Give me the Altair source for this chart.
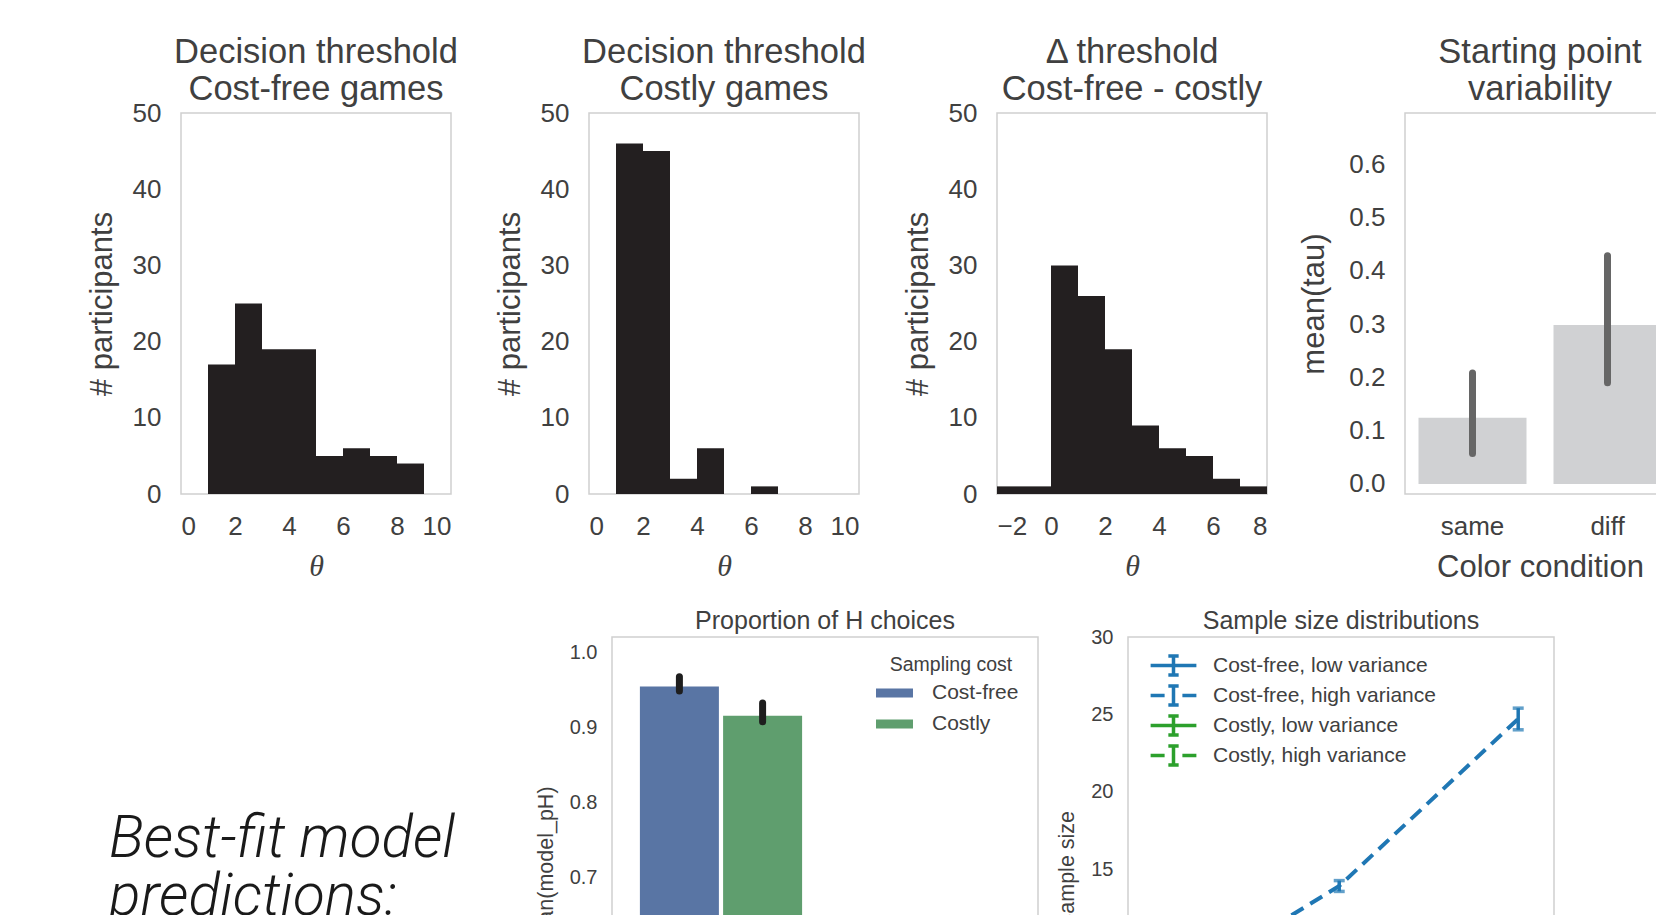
import altair as alt
import pandas as pd

# ---------------- data ----------------
# Histograms: left bin edges (bin width 1) and participant counts
cf_bin_left = [1, 2, 3, 4, 5, 6, 7, 8]
cf_counts = [17, 25, 19, 19, 5, 6, 5, 4]

costly_bin_left = [1, 2, 3, 4, 5, 6]
costly_counts = [46, 45, 2, 6, 0, 1]

delta_bin_left = [-2, -1, 0, 1, 2, 3, 4, 5, 6, 7]
delta_counts = [1, 1, 30, 26, 19, 9, 6, 5, 2, 1]
BIN_WIDTH = 1

# Starting point variability
color_condition = ["same", "diff"]
tau_mean = [0.124, 0.298]
tau_ci_low = [0.057, 0.190]
tau_ci_high = [0.208, 0.428]

# Proportion of H choices (visible group)
sampling_cost = ["Cost-free", "Costly"]
ph_hue_offset = [-0.2, 0.2]
ph_mean = [0.955, 0.916]
ph_ci_low = [0.949, 0.908]
ph_ci_high = [0.968, 0.933]

# Sample size distributions
ss_series = ["Cost-free, low variance", "Cost-free, high variance",
             "Costly, low variance", "Costly, high variance"]
ss_colors = ["#1f77b4", "#1f77b4", "#2ca02c", "#2ca02c"]
ss_plot_series = ["Cost-free, high variance"] * 3
ss_x = [0, 1, 2]
ss_mean = [6.8, 13.9, 24.7]
ss_low = [None, 13.55, 24.0]
ss_high = [None, 14.25, 25.4]

caption_text = ["Best-fit model\npredictions:"]

# ---------------- styling ----------------
TXT = "#404040"
FONT = "Liberation Sans"
TOP_W, TOP_H = 270, 381
TOP_GAP = 138
BOT_H = 464


def top_title(lines, offset):
    return alt.TitleParams(lines, fontSize=34.5, lineHeight=36.5, offset=offset)


def hist_panel(left, counts, title_lines, xdom, xvals):
    df = pd.DataFrame({"left": left, "count": counts})
    df["right"] = df["left"] + BIN_WIDTH
    return alt.Chart(df).mark_bar(color="#231f20", clip=True).encode(
        x=alt.X("left:Q", scale=alt.Scale(domain=xdom, nice=False, zero=False),
                axis=alt.Axis(values=xvals, title="θ", titleFont="Liberation Serif",
                              titleFontStyle="italic", titleFontSize=30,
                              labelFontSize=26, labelPadding=19, titlePadding=12)),
        x2="right:Q",
        y=alt.Y("count:Q", scale=alt.Scale(domain=[0, 50], nice=False),
                axis=alt.Axis(values=[0, 10, 20, 30, 40, 50], title="# participants",
                              labelFontSize=26, labelPadding=20,
                              titleFontSize=31, titlePadding=14)),
        y2=alt.datum(0),
    ).properties(width=TOP_W, height=TOP_H, title=top_title(title_lines, -7))


p1 = hist_panel(cf_bin_left, cf_counts, ["Decision threshold", "Cost-free games"],
                [0, 10], [0, 2, 4, 6, 8, 10])
p2 = hist_panel(costly_bin_left, costly_counts, ["Decision threshold", "Costly games"],
                [0, 10], [0, 2, 4, 6, 8, 10])
p3 = hist_panel(delta_bin_left, delta_counts, ["Δ threshold", "Cost-free - costly"],
                [-2, 8], [-2, 0, 2, 4, 6, 8])

# panel 4
df4 = pd.DataFrame({"cond": color_condition, "mean": tau_mean,
                    "lo": tau_ci_low, "hi": tau_ci_high})
x4 = alt.X("cond:N", sort=color_condition,
           scale=alt.Scale(paddingInner=0.2, paddingOuter=0.1),
           axis=alt.Axis(labelAngle=0, title="Color condition", labelFontSize=26,
                         titleFontSize=31, labelPadding=19, titlePadding=13))
y4s = alt.Scale(domain=[-0.019, 0.696], nice=False, zero=False)
bars4 = alt.Chart(df4).mark_bar(color="#d0d1d3").encode(
    x=x4,
    y=alt.Y("mean:Q", scale=y4s,
            axis=alt.Axis(values=[0, 0.1, 0.2, 0.3, 0.4, 0.5, 0.6], format=".1f",
                          title="mean(tau)", labelFontSize=26, labelPadding=20,
                          titleFontSize=31, titlePadding=18)),
    y2=alt.datum(0),
)
err4 = alt.Chart(df4).mark_rule(color="#666666", strokeWidth=7, strokeCap="round").encode(
    x=alt.X("cond:N", sort=color_condition), y="lo:Q", y2="hi:Q")
p4 = alt.layer(bars4, err4).properties(
    width=TOP_W, height=TOP_H, title=top_title(["Starting point", "variability"], 6))

# bottom: caption panel
dft = pd.DataFrame({"label": caption_text})
caption = alt.Chart(dft).mark_text(
    align="left", baseline="alphabetic", fontSize=58.5, lineHeight=58,
    fontStyle="italic", font="Roboto", fontWeight=300, lineBreak="\n", color="#1a1a1a"
).encode(text="label:N", x=alt.value(-72), y=alt.value(220)).properties(
    width=341, height=BOT_H, view=alt.ViewBackground(stroke="transparent"))

# bottom: proportion of H choices
dfb = pd.DataFrame({"cost": sampling_cost, "off": ph_hue_offset, "mean": ph_mean,
                    "lo": ph_ci_low, "hi": ph_ci_high})
xb = alt.X("off:Q", scale=alt.Scale(domain=[-0.5, 1.5], nice=False, zero=False), axis=None)
yb = alt.Scale(domain=[0.4023, 1.021], nice=False, zero=False)
bars_b = alt.Chart(dfb).mark_bar(size=79, clip=True).encode(
    x=xb,
    y=alt.Y("mean:Q", scale=yb,
            axis=alt.Axis(values=[0.5, 0.6, 0.7, 0.8, 0.9, 1.0], format=".1f",
                          title="mean(model_pH)", labelFontSize=20, labelPadding=15,
                          titleFontSize=21.5, titlePadding=12)),
    color=alt.Color("cost:N", scale=alt.Scale(domain=sampling_cost, range=["#5975a4", "#5f9e6e"]),
                    legend=alt.Legend(title="Sampling cost", orient="none", legendX=272, legendY=19,
                                      symbolType="M-2,-0.5H2V0.5H-2Z", symbolSize=342,
                                      labelFontSize=21, titleFontSize=19.5, labelOffset=27,
                                      rowPadding=9, titlePadding=7, titleAnchor="middle",
                                      padding=0, symbolStrokeWidth=0, labelLimit=400)),
)
err_b = alt.Chart(dfb).mark_rule(color="#1e1e1e", strokeWidth=7, strokeCap="round").encode(
    x=xb, y="lo:Q", y2="hi:Q")
bar_panel = alt.layer(bars_b, err_b).properties(
    width=426, height=BOT_H,
    title=alt.TitleParams("Proportion of H choices", fontSize=25, offset=3.5))

# bottom: sample size distributions
dfl = pd.DataFrame({"series": ss_plot_series, "x": ss_x, "mean": ss_mean,
                    "lo": ss_low, "hi": ss_high})
xl = alt.X("x:Q", scale=alt.Scale(domain=[-0.18, 2.2], nice=False, zero=False), axis=None)
yls = alt.Scale(domain=[0, 30], nice=False)
leg_l = alt.Legend(title=None, orient="none", legendX=32, legendY=15,
                   symbolType="M-2,0H0M2,0H0M0,0V-0.82M0,0V0.82M-0.45,-0.82H0.45M-0.45,0.82H0.45",
                   symbolSize=524, symbolStrokeWidth=3.5, labelFontSize=21,
                   labelOffset=26, rowPadding=-4, padding=0, labelLimit=400)
color_l = alt.Color("series:N", scale=alt.Scale(domain=ss_series, range=ss_colors), legend=leg_l)
dash_l = alt.StrokeDash("series:N", scale=alt.Scale(domain=ss_series,
                                                    range=[[1, 0], [14, 8], [1, 0], [14, 8]]),
                        legend=leg_l)
line_l = alt.Chart(dfl).mark_line(strokeWidth=4, clip=True).encode(
    x=xl,
    y=alt.Y("mean:Q", scale=yls,
            axis=alt.Axis(values=[5, 10, 15, 20, 25, 30], title="Sample size",
                          labelFontSize=20, labelPadding=15, titleFontSize=21.5, titlePadding=12)),
    color=color_l, strokeDash=dash_l)
err_l = alt.Chart(dfl).transform_filter("isValid(datum.lo)").mark_rule(strokeWidth=3.5).encode(
    x=xl, y="lo:Q", y2="hi:Q", color=alt.Color("series:N", legend=None))
cap_lo = alt.Chart(dfl).transform_filter("isValid(datum.lo)").mark_tick(
    orient="horizontal", size=11, thickness=3.5).encode(
    x=xl, y="lo:Q", color=alt.Color("series:N", legend=None))
cap_hi = alt.Chart(dfl).transform_filter("isValid(datum.hi)").mark_tick(
    orient="horizontal", size=11, thickness=3.5).encode(
    x=xl, y="hi:Q", color=alt.Color("series:N", legend=None))
line_panel = alt.layer(line_l, err_l, cap_lo, cap_hi).properties(
    width=426, height=BOT_H,
    title=alt.TitleParams("Sample size distributions", fontSize=25, offset=-6.5))

row1 = alt.hconcat(p1, p2, p3, p4, spacing=TOP_GAP, bounds="flush")
row2 = alt.hconcat(caption, bar_panel, line_panel, spacing=90, bounds="flush").resolve_scale(
    color="independent", strokeDash="independent"
).resolve_legend(color="independent", strokeDash="independent")

chart = alt.vconcat(row1, row2, spacing=524, bounds="flush").resolve_scale(
    color="independent", strokeDash="independent"
).resolve_legend(
    color="independent", strokeDash="independent"
).properties(
    autosize=alt.AutoSizeParams(type="none"),
    padding={"left": 173, "top": 105, "right": 1475, "bottom": 810},
).configure_view(
    stroke="#d0d0d0", strokeWidth=1.5
).configure_axis(
    grid=False, domain=False, ticks=False, tickSize=0,
    labelColor=TXT, titleColor=TXT, labelFont=FONT, titleFont=FONT, titleFontWeight="normal"
).configure_title(
    font=FONT, fontWeight="normal", color=TXT, anchor="middle"
).configure_legend(
    labelFont=FONT, titleFont=FONT, labelColor=TXT, titleColor=TXT, titleFontWeight="normal"
)

chart.save("out.html", embed_options={"renderer": "svg", "actions": False})
